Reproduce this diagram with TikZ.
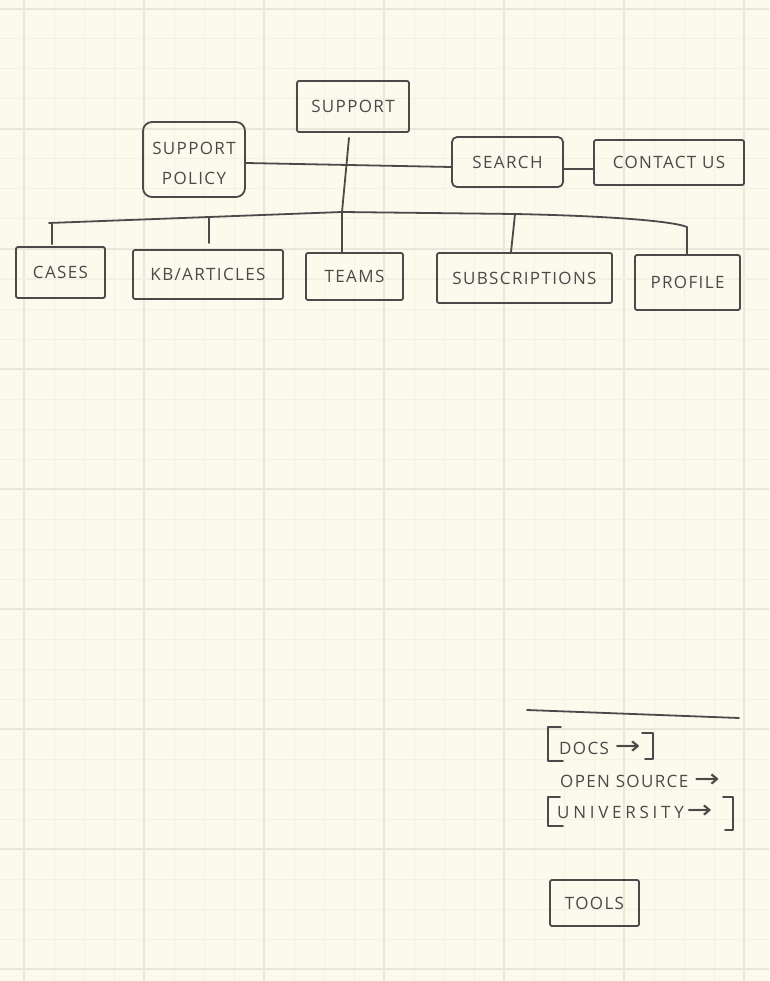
\documentclass[tikz,border=0pt]{standalone}
\usepackage{fontspec}
\setmainfont{Open Sans}[LetterSpace=8]
\newfontfamily\arrowfont{DejaVu Sans}
\definecolor{paper}{HTML}{FCFAEC}
\definecolor{gridfine}{HTML}{F3F1E3}
\definecolor{gridbold}{HTML}{E9E7D9}
\definecolor{ink}{HTML}{4A4A4A}
\tikzset{
  box/.style={draw=ink, line width=1.8pt, rectangle, rounded corners=2pt,
    inner sep=0pt, text=ink, font=\fontsize{17}{30}\selectfont, align=center},
  wire/.style={draw=ink, line width=1.8pt, line cap=round, line join=round},
  label/.style={inner sep=0pt, text=ink, font=\fontsize{17}{20}\selectfont},
}
% long hand-drawn style arrow used inside the footer links
\newcommand{\arw}{{\arrowfont\addfontfeatures{LetterSpace=0}\scalebox{1.8}[1.5]{→}}}
\begin{document}
\begin{tikzpicture}[x=1pt,y=-1pt]
  % paper
  \useasboundingbox (0,0) rectangle (769,981);
  \fill[paper] (0,0) rectangle (769,981);
  % squared grid, every fourth line stronger
  \foreach \i in {0,...,24} {
    \pgfmathtruncatemacro{\m}{mod(\i,4)}
    \ifnum\m=0
      \draw[gridbold, line width=1.4pt] (24+30*\i,0) -- (24+30*\i,981);
    \else
      \draw[gridfine, line width=1pt] (24+30*\i,0) -- (24+30*\i,981);
    \fi
  }
  \foreach \j in {0,...,32} {
    \pgfmathtruncatemacro{\m}{mod(\j,4)}
    \ifnum\m=0
      \draw[gridbold, line width=1.4pt] (0,9+30*\j) -- (769,9+30*\j);
    \else
      \draw[gridfine, line width=1pt] (0,9+30*\j) -- (769,9+30*\j);
    \fi
  }

  % top level
  \node[box, minimum width=112pt, minimum height=51pt] (support) at (353,106.5) {SUPPORT};
  \node[box, rounded corners=9pt, minimum width=102pt, minimum height=75pt] (policy) at (194,159.5) {};
  \node[inner sep=0pt, text=ink, font=\fontsize{17}{30}\selectfont, align=center] (policytext) at (194,163) {SUPPORT\\POLICY};
  \node[box, rounded corners=5pt, minimum width=111pt, minimum height=50pt] (search) at (507.5,162) {SEARCH};
  \node[box, minimum width=150pt, minimum height=45pt] (contact) at (669,162.5) {CONTACT US};

  % second level
  \node[box, minimum width=89pt, minimum height=51pt] (cases) at (60.5,272.5) {CASES};
  \node[box, minimum width=150pt, minimum height=49pt] (kb) at (208,274.5) {KB/ARTICLES};
  \node[box, minimum width=97pt, minimum height=47pt] (teams) at (354.5,276.5) {TEAMS};
  \node[box, minimum width=175pt, minimum height=50pt] (subs) at (524.5,278) {SUBSCRIPTIONS};
  \node[box, minimum width=105pt, minimum height=55pt] (profile) at (687.5,282.5) {PROFILE};

  % side links
  \draw[wire] ([yshift=-3.5pt]policy.east) -- ([yshift=-5pt]search.west);
  \draw[wire] ([yshift=-7pt]search.east) -- ([yshift=-6.5pt]contact.west);

  % bus joints
  \coordinate (busL) at (49,223);
  \coordinate (jcases) at (52,223);
  \coordinate (jkb) at (209,217);
  \coordinate (kbtip) at (209,243);
  \coordinate (jteams) at (342,212);
  \coordinate (jsubs) at (515,214);
  \coordinate (jprof) at (687,227);

  % trunk and bus
  \draw[wire] ([xshift=-4pt,yshift=-5pt]support.south) -- (jteams) -- (jteams |- teams.north);
  \draw[wire] (busL) -- (jkb) -- (jteams) -- (jsubs)
    .. controls (610,216) and (672,221) .. (jprof);
  \draw[wire] (jcases) -- ([yshift=2pt]jcases |- cases.north);
  \draw[wire] (jkb) -- (kbtip);
  \draw[wire] (jsubs) -- ([xshift=-13.5pt]subs.north);
  \draw[wire] (jprof) -- (jprof |- profile.north);

  % footer links
  \coordinate (divL) at (527,710);
  \coordinate (divR) at (739,718);
  \draw[wire] (divL) -- (divR);

  \node[label, anchor=west] (docs) at (559,748) {DOCS \arw};
  \node[label, anchor=west] (oss) at (560,781) {OPEN SOURCE \arw};
  \node[label, anchor=west] (uni) at (557,812) {\addfontfeatures{LetterSpace=22}UNIVERSITY\,\arw};

  % brackets
  \draw[wire] (561,727) -- (548,727) -- (548,761) -- (563,761);
  \draw[wire] (642,733) -- (653,733) -- (653,759) -- (645,759);
  \draw[wire] (560,797) -- (548,797) -- (548,826) -- (563,826);
  \draw[wire] (723,797) -- (733,797) -- (733,830) -- (725,830);

  \node[box, minimum width=89pt, minimum height=46pt] (tools) at (594.5,903) {TOOLS};
\end{tikzpicture}
\end{document}
